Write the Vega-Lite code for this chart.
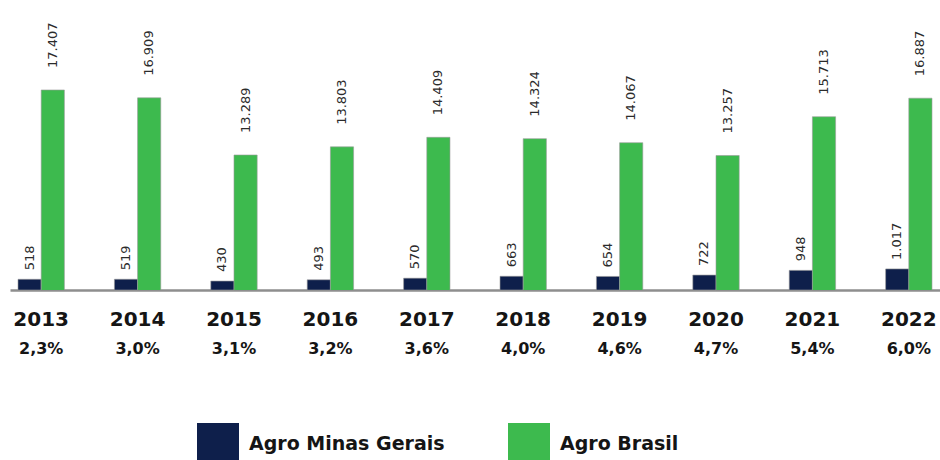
{
  "$schema": "https://vega.github.io/schema/vega-lite/v6.json",
  "width": 930,
  "height": 290,
  "padding": {"left": 10, "top": 0, "right": 0, "bottom": 0},
  "background": "white",
  "config": {
    "view": {"stroke": null},
    "font": "DejaVu Sans",
    "locale": {"number": {"decimal": ",", "thousands": ".", "grouping": [3], "currency": ["R$ ", ""]}}
  },
  "data": {
    "values": [
      {"ano": 2013, "serie": "Agro Minas Gerais", "valor": 518, "pct": "2,3%"},
      {"ano": 2013, "serie": "Agro Brasil", "valor": 17407, "pct": "2,3%"},
      {"ano": 2014, "serie": "Agro Minas Gerais", "valor": 519, "pct": "3,0%"},
      {"ano": 2014, "serie": "Agro Brasil", "valor": 16909, "pct": "3,0%"},
      {"ano": 2015, "serie": "Agro Minas Gerais", "valor": 430, "pct": "3,1%"},
      {"ano": 2015, "serie": "Agro Brasil", "valor": 13289, "pct": "3,1%"},
      {"ano": 2016, "serie": "Agro Minas Gerais", "valor": 493, "pct": "3,2%"},
      {"ano": 2016, "serie": "Agro Brasil", "valor": 13803, "pct": "3,2%"},
      {"ano": 2017, "serie": "Agro Minas Gerais", "valor": 570, "pct": "3,6%"},
      {"ano": 2017, "serie": "Agro Brasil", "valor": 14409, "pct": "3,6%"},
      {"ano": 2018, "serie": "Agro Minas Gerais", "valor": 663, "pct": "4,0%"},
      {"ano": 2018, "serie": "Agro Brasil", "valor": 14324, "pct": "4,0%"},
      {"ano": 2019, "serie": "Agro Minas Gerais", "valor": 654, "pct": "4,6%"},
      {"ano": 2019, "serie": "Agro Brasil", "valor": 14067, "pct": "4,6%"},
      {"ano": 2020, "serie": "Agro Minas Gerais", "valor": 722, "pct": "4,7%"},
      {"ano": 2020, "serie": "Agro Brasil", "valor": 13257, "pct": "4,7%"},
      {"ano": 2021, "serie": "Agro Minas Gerais", "valor": 948, "pct": "5,4%"},
      {"ano": 2021, "serie": "Agro Brasil", "valor": 15713, "pct": "5,4%"},
      {"ano": 2022, "serie": "Agro Minas Gerais", "valor": 1017, "pct": "6,0%"},
      {"ano": 2022, "serie": "Agro Brasil", "valor": 16887, "pct": "6,0%"}
    ]
  },
  "layer": [
    {
      "transform": [{"filter": "datum.serie == 'Agro Minas Gerais'"}],
      "encoding": {
        "x": {
          "field": "ano", "type": "ordinal",
          "scale": {"paddingInner": 0.519, "paddingOuter": 0.083},
          "axis": {
            "orient": "bottom", "title": null, "labelAngle": 0,
            "ticks": false, "tickSize": 0, "labelPadding": 19,
            "labelFont": "DejaVu Sans", "labelFontWeight": "bold", "labelFontSize": 20,
            "labelColor": "#151515",
            "domainColor": "#8e8e8e", "domainWidth": 2.5
          }
        },
        "xOffset": {"field": "serie", "type": "nominal", "scale": {"domain": ["Agro Minas Gerais", "Agro Brasil"], "paddingInner": 0, "paddingOuter": 0}},
        "y": {"field": "valor", "type": "quantitative", "scale": {"domain": [0, 14000]}, "axis": null}
      },
      "layer": [
        {
          "mark": {"type": "bar", "stroke": "#9a9a9a", "strokeWidth": 0.6},
          "encoding": {
            "color": {
              "field": "serie", "type": "nominal",
              "scale": {"domain": ["Agro Minas Gerais", "Agro Brasil"], "range": ["#0e1f4b", "#3dba4e"]},
              "legend": {
                "title": null, "orient": "none", "direction": "horizontal",
                "legendX": 187, "legendY": 423, "padding": 0,
                "symbolType": "square", "symbolSize": 1764, "symbolStrokeWidth": 0, "symbolOpacity": 1,
                "labelFont": "DejaVu Sans", "labelFontWeight": "bold", "labelFontSize": 19,
                "labelColor": "#151515", "labelOffset": 10, "columnPadding": 63, "labelLimit": 400
              }
            }
          }
        },
        {
          "mark": {"type": "text", "angle": 270, "align": "left", "baseline": "middle", "dx": 9, "fontSize": 13, "color": "#2b2b2b"},
          "encoding": {"text": {"field": "valor", "type": "quantitative", "format": ",d"}}
        }
      ]
    },
    {
      "transform": [{"filter": "datum.serie == 'Agro Brasil'"}],
      "encoding": {
        "x": {
          "field": "ano", "type": "ordinal",
          "scale": {"paddingInner": 0.519, "paddingOuter": 0.083},
          "axis": null
        },
        "xOffset": {"field": "serie", "type": "nominal", "scale": {"domain": ["Agro Minas Gerais", "Agro Brasil"], "paddingInner": 0, "paddingOuter": 0}},
        "y": {"field": "valor", "type": "quantitative", "scale": {"domain": [4736, 23107], "zero": false}, "axis": null}
      },
      "layer": [
        {
          "mark": {"type": "bar", "stroke": "#9a9a9a", "strokeWidth": 0.6, "clip": true},
          "encoding": {
            "color": {"field": "serie", "type": "nominal"}
          }
        },
        {
          "mark": {"type": "text", "angle": 270, "align": "left", "baseline": "middle", "dx": 22, "fontSize": 13, "color": "#2b2b2b"},
          "encoding": {"text": {"field": "valor", "type": "quantitative", "format": ",d"}}
        }
      ]
    },
    {
      "transform": [{"filter": "datum.serie == 'Agro Brasil'"}],
      "mark": {"type": "text", "text": ""},
      "encoding": {
        "x": {
          "field": "pct", "type": "nominal",
          "sort": {"field": "ano", "op": "min"},
          "scale": {"type": "band", "paddingInner": 0.519, "paddingOuter": 0.083},
          "axis": {
            "orient": "bottom", "offset": 50, "title": null, "labelAngle": 0,
            "domain": false, "ticks": false, "tickSize": 0, "labelPadding": 0,
            "labelFont": "DejaVu Sans", "labelFontWeight": "bold", "labelFontSize": 16,
            "labelColor": "#151515"
          }
        }
      }
    }
  ],
  "resolve": {"scale": {"y": "independent", "x": "independent"}, "axis": {"x": "independent"}}
}
